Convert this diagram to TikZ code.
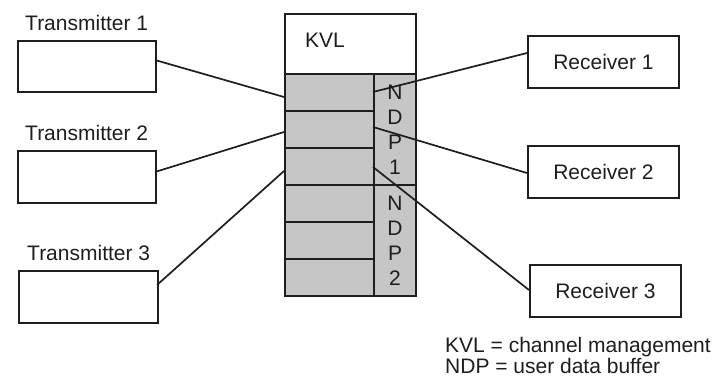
\documentclass[tikz,border=0pt]{standalone}
\usepackage{fontspec}
\setmainfont{Liberation Sans}
\definecolor{cellgray}{RGB}{198,198,198}
\definecolor{ink}{RGB}{30,30,30}
\begin{document}
\begin{tikzpicture}[x=1pt,y=-1pt,
  box/.style={draw=ink,line width=2pt,fill=white,anchor=north west,inner sep=0pt},
  cell/.style={draw=ink,line width=2pt,fill=cellgray,anchor=north west,inner sep=0pt,
    minimum width=89pt,minimum height=37pt},
  ndp/.style={draw=ink,line width=2pt,fill=cellgray,anchor=north west,inner sep=0pt,
    minimum width=42pt,minimum height=111pt,align=center,text=ink,
    font=\fontsize{21}{25}\selectfont},
  link/.style={draw=ink,line width=1.7pt},
  lbl/.style={font=\fontsize{21}{25}\selectfont,inner sep=0pt,text=ink}]
\fill[white] (0,0) rectangle (722,380);
\useasboundingbox (0,0) rectangle (722,380);

% transmitters
\node[box,minimum width=138pt,minimum height=51pt] (t1) at (17,40) {};
\node[box,minimum width=138pt,minimum height=52pt] (t2) at (17,150) {};
\node[box,minimum width=139pt,minimum height=52pt] (t3) at (18,270) {};
\node[lbl,anchor=base west] (t1l) at (25,30) {Transmitter 1};
\node[lbl,anchor=base west] (t2l) at (25,140) {Transmitter 2};
\node[lbl,anchor=base west] (t3l) at (27,260) {Transmitter 3};

% channel block: KVL header, six buffer cells, two NDP columns
\node[box,minimum width=131pt,minimum height=60pt] (kvl) at (284,13) {};
\node[lbl] (kvll) at (325,40) {KVL};
\node[cell] (c1) at (284,73) {};
\node[cell] (c2) at (284,110) {};
\node[cell] (c3) at (284,147) {};
\node[cell] (c4) at (284,184) {};
\node[cell] (c5) at (284,221) {};
\node[cell] (c6) at (284,258) {};
\node[ndp] (n1) at (373,73) {N\\D\\P\\1};
\node[ndp] (n2) at (373,184) {N\\D\\P\\2};

% receivers
\node[box,minimum width=151pt,minimum height=52pt] (r1) at (527,35) {};
\node[box,minimum width=151pt,minimum height=52pt] (r2) at (527,145) {};
\node[box,minimum width=151pt,minimum height=52pt] (r3) at (529,264) {};
\node[lbl] at (r1.center) {Receiver 1};
\node[lbl] at (r2.center) {Receiver 2};
\node[lbl] at (r3.center) {Receiver 3};

% attachment points
\coordinate (t1o) at (155,60);
\coordinate (t2o) at (155,172);
\coordinate (t3o) at (157,285);
\coordinate (c1i) at (284,97);
\coordinate (c2i) at (284,132);
\coordinate (c3i) at (284,171);
\coordinate (c1o) at (373,92);
\coordinate (c2o) at (373,127);
\coordinate (c3o) at (373,167);
\coordinate (r1i) at (527,53);
\coordinate (r2i) at (527,173);
\coordinate (r3i) at (529,290);

\draw[link] (t1o) -- (c1i);
\draw[link] (t2o) -- (c2i);
\draw[link] (t3o) -- (c3i);
\draw[link] (c1o) -- (r1i);
\draw[link] (c2o) -- (r2i);
\draw[link] (c3o) -- (r3i);

% legend
\node[lbl,anchor=base west] (lg1) at (445,352) {KVL = channel management};
\node[lbl,anchor=base west] (lg2) at (445,373) {NDP = user data buffer};
\end{tikzpicture}
\end{document}
